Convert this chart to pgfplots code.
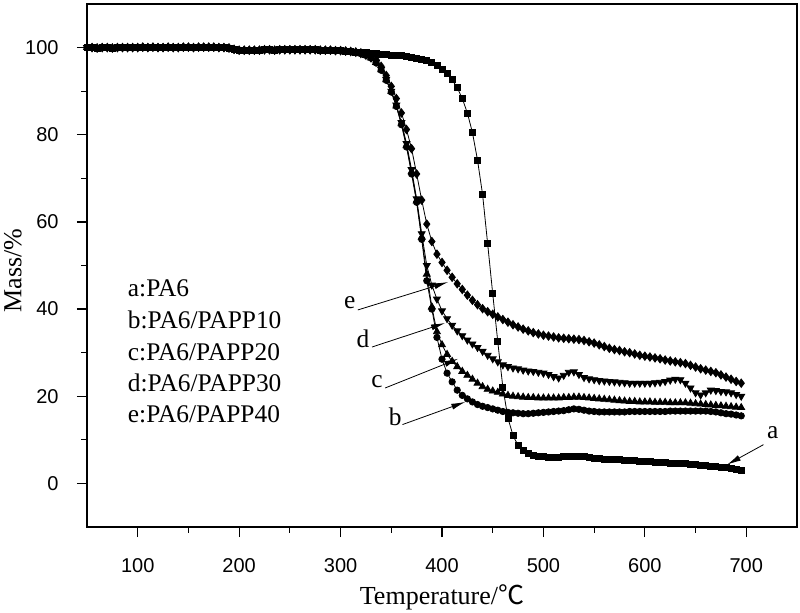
\documentclass[border=0pt]{standalone}
\usepackage{fontspec}
\setmainfont{Liberation Serif}
\newfontfamily\sansf{Liberation Sans}
\newfontfamily\cjk{Noto Sans CJK SC}
\usepackage{pgfplots}
\usepackage{pgfplotstable}
\pgfplotsset{compat=1.18}
\usetikzlibrary{arrows.meta}
\pgfplotstableread{
T a b c d e
50 100.0 100.0 100.0 100.0 100.0
55 100.0 100.0 100.0 100.0 100.0
60 99.9 99.9 99.9 99.9 99.9
65 100.0 100.0 100.0 100.0 100.0
70 100.0 100.0 100.0 100.0 100.0
75 99.9 99.9 99.9 99.9 99.9
80 100.0 100.0 100.0 100.0 100.0
85 100.0 100.0 100.0 100.0 100.0
90 100.0 100.0 100.0 100.0 100.0
95 100.0 100.0 100.0 100.0 100.0
100 100.0 100.0 100.0 100.0 100.0
105 100.1 100.1 100.1 100.1 100.1
110 100.0 100.0 100.0 100.0 100.0
115 100.1 100.1 100.1 100.1 100.1
120 100.0 100.0 100.0 100.0 100.0
125 100.0 100.0 100.0 100.0 100.0
130 100.1 100.1 100.1 100.1 100.1
135 100.0 100.0 100.0 100.0 100.0
140 100.0 100.0 100.0 100.0 100.0
145 100.1 100.1 100.1 100.1 100.1
150 100.1 100.1 100.1 100.1 100.1
155 100.0 100.0 100.0 100.0 100.0
160 100.1 100.1 100.1 100.1 100.1
165 100.1 100.1 100.1 100.1 100.1
170 100.1 100.1 100.1 100.1 100.1
175 100.1 100.1 100.1 100.1 100.1
180 100.0 100.0 100.0 100.0 100.0
185 100.0 100.0 100.0 100.0 100.0
190 99.9 99.9 99.9 99.9 99.9
195 99.6 99.6 99.6 99.6 99.6
200 99.4 99.4 99.4 99.4 99.4
205 99.4 99.4 99.4 99.4 99.4
210 99.4 99.4 99.4 99.4 99.4
215 99.4 99.4 99.4 99.4 99.4
220 99.4 99.4 99.4 99.4 99.4
225 99.5 99.5 99.5 99.5 99.5
230 99.5 99.5 99.5 99.5 99.5
235 99.4 99.4 99.4 99.4 99.4
240 99.5 99.5 99.5 99.5 99.5
245 99.5 99.5 99.5 99.5 99.5
250 99.5 99.5 99.5 99.5 99.5
255 99.5 99.5 99.5 99.5 99.5
260 99.5 99.5 99.5 99.5 99.5
265 99.5 99.5 99.5 99.5 99.5
270 99.5 99.5 99.5 99.5 99.5
275 99.5 99.5 99.5 99.5 99.5
280 99.4 99.4 99.4 99.4 99.4
285 99.4 99.4 99.4 99.4 99.4
290 99.4 99.4 99.4 99.4 99.4
295 99.3 99.3 99.3 99.3 99.3
300 99.3 99.3 99.3 99.3 99.3
305 99.2 99.2 99.2 99.2 99.2
310 99.1 99.1 99.1 99.1 99.1
315 99.0 98.9 98.9 98.9 99.0
320 98.9 98.6 98.6 98.6 98.8
325 98.8 98.2 98.2 98.2 98.5
330 98.7 97.6 97.6 97.6 98.1
335 98.6 96.5 96.6 96.6 97.2
340 98.5 94.8 94.9 95.0 95.7
345 98.4 92.5 92.6 92.7 93.6
350 98.3 89.8 89.9 90.0 91.1
355 98.2 86.5 86.6 86.8 88.3
360 98.1 82.3 82.5 82.8 85.0
365 98.0 77.2 77.5 78.0 81.2
370 97.8 71.0 71.5 72.0 76.8
375 97.6 64.5 64.8 65.3 71.0
380 97.3 56.0 56.5 57.3 65.0
385 97.0 46.5 48.0 50.0 59.5
390 96.5 40.0 40.5 45.5 55.5
395 95.8 33.5 34.8 42.3 52.6
400 95.0 28.5 31.8 39.6 50.7
405 94.0 25.3 29.6 37.8 48.9
410 92.6 23.3 28.0 36.3 47.3
415 90.8 21.4 26.8 35.0 45.8
420 88.3 20.2 25.7 33.9 44.5
425 85.0 19.4 24.8 32.9 43.2
430 80.5 18.7 23.9 32.0 42.0
435 74.2 18.1 23.0 31.2 41.0
440 66.3 17.7 22.2 30.3 40.1
445 55.0 17.4 21.6 29.4 39.4
450 43.5 17.1 21.2 28.6 38.8
455 32.5 16.8 20.9 27.9 38.2
460 22.0 16.5 20.5 27.2 37.6
465 15.0 16.3 20.2 26.8 37.0
470 11.0 16.2 20.0 26.5 36.4
475 8.7 16.1 19.9 26.3 35.9
480 7.5 16.0 19.8 26.0 35.4
485 6.9 16.0 19.7 25.8 35.0
490 6.5 16.1 19.7 25.7 34.6
495 6.2 16.2 19.6 25.5 34.3
500 6.1 16.3 19.6 25.3 34.0
505 6.0 16.4 19.6 25.0 33.8
510 6.0 16.5 19.6 24.5 33.6
515 6.0 16.6 19.6 24.2 33.4
520 6.1 16.7 19.7 24.8 33.3
525 6.2 16.9 19.7 25.5 33.2
530 6.3 17.1 19.8 25.6 33.1
535 6.3 17.0 19.8 25.0 33.0
540 6.1 16.8 19.7 24.3 32.8
545 5.9 16.6 19.6 24.0 32.5
550 5.8 16.5 19.5 23.8 32.2
555 5.7 16.4 19.4 23.6 31.8
560 5.6 16.4 19.3 23.5 31.4
565 5.6 16.4 19.2 23.4 31.0
570 5.5 16.4 19.1 23.3 30.7
575 5.4 16.4 19.0 23.2 30.5
580 5.3 16.4 18.9 23.1 30.2
585 5.2 16.5 18.8 23.0 30.0
590 5.2 16.5 18.8 23.0 29.7
595 5.1 16.5 18.7 23.0 29.4
600 5.1 16.5 18.7 23.0 29.2
605 5.0 16.5 18.7 23.0 29.0
610 4.9 16.5 18.6 23.1 28.8
615 4.9 16.5 18.6 23.2 28.6
620 4.8 16.5 18.6 23.4 28.3
625 4.7 16.6 18.5 23.7 28.1
630 4.7 16.6 18.5 23.9 27.9
635 4.6 16.6 18.5 23.8 27.7
640 4.5 16.6 18.5 23.0 27.5
645 4.4 16.6 18.4 21.9 27.1
650 4.3 16.6 18.3 20.8 26.7
655 4.2 16.6 18.2 20.3 26.3
660 4.1 16.6 18.1 20.8 26.0
665 4.0 16.5 18.0 21.4 25.7
670 3.9 16.4 17.9 21.3 25.4
675 3.7 16.2 17.8 21.1 24.9
680 3.6 16.0 17.7 21.0 24.4
685 3.5 15.9 17.6 20.8 23.9
690 3.3 15.7 17.5 20.4 23.4
695 3.1 15.5 17.4 20.0 23.0
}\data
\begin{document}
\begin{tikzpicture}
\begin{axis}[
  name=ax,
  scale only axis,
  width=355pt, height=261.5pt,
  xmin=50, xmax=750, ymin=-10, ymax=110,
  xtick={100,200,...,700}, ytick={0,20,...,100},
  minor tick num=1,
  tick pos=left,
  tick align=outside,
  major tick length=5pt, minor tick length=2.8pt,
  axis line style={line width=0.8pt},
  major tick style={black, line width=0.6pt},
  minor tick style={black, line width=0.6pt},
  /pgf/number format/assume math mode=true,
  ticklabel style={font=\sansf\fontsize{10}{12}\selectfont, inner sep=0pt},
  xticklabel style={anchor=base, yshift=-17.6pt},
  yticklabel style={anchor=east, xshift=-9pt},
  xlabel={Temperature/{\cjk ℃}},
  ylabel={Mass/\%},
  label style={font=\fontsize{13}{15}\selectfont},
  xlabel style={at={(axis description cs:0.5,-0.1338)}, anchor=center},
  ylabel style={at={(axis description cs:-0.1042,0.49)}, anchor=center},
  every axis plot/.append style={black, line width=0.4pt},
  clip=false,
]
\addplot[mark=square*, mark size=1.5pt] table[x=T,y=a] {\data};
\addplot[mark=*, mark size=1.6pt] table[x=T,y=b] {\data};
\addplot[mark=triangle*, mark size=2pt] table[x=T,y=c] {\data};
\addplot[mark=triangle*, mark options={rotate=180}, mark size=2pt] table[x=T,y=d] {\data};
\addplot[mark=diamond*, mark size=2.1pt] table[x=T,y=e] {\data};
\begin{scope}[font=\fontsize{12.7}{15}\selectfont]
\node[anchor=west, inner sep=0pt] at (axis cs:90,44.8) {a:PA6};
\node[anchor=west, inner sep=0pt] at (axis cs:90,37.5) {b:PA6/PAPP10};
\node[anchor=west, inner sep=0pt] at (axis cs:90,30.2) {c:PA6/PAPP20};
\node[anchor=west, inner sep=0pt] at (axis cs:90,23.1) {d:PA6/PAPP30};
\node[anchor=west, inner sep=0pt] at (axis cs:90,15.8) {e:PA6/PAPP40};
\node[inner sep=0pt] at (axis cs:309,41.4) {e};
\node[inner sep=0pt] at (axis cs:322,33.1) {d};
\node[inner sep=0pt] at (axis cs:336,23.3) {c};
\node[inner sep=0pt] at (axis cs:354,15.3) {b};
\node[inner sep=0pt] at (axis cs:726,11.7) {a};
\end{scope}
\begin{scope}[line width=0.4pt, -{Latex[length=7pt,width=3pt]}]
\draw (axis cs:317,39.8) -- (axis cs:406,46.2);
\draw (axis cs:331,31.3) -- (axis cs:403,36.8);
\draw (axis cs:344,21.9) -- (axis cs:416,28.6);
\draw (axis cs:361,13.5) -- (axis cs:423,18.7);
\draw (axis cs:717,8.9) -- (axis cs:681,4.3);
\end{scope}
\end{axis}
\pgfresetboundingbox
\path ([shift={(-43.5pt,-43pt)}]ax.south west) rectangle ([shift={(1.5pt,2pt)}]ax.north east);
\end{tikzpicture}
\end{document}
